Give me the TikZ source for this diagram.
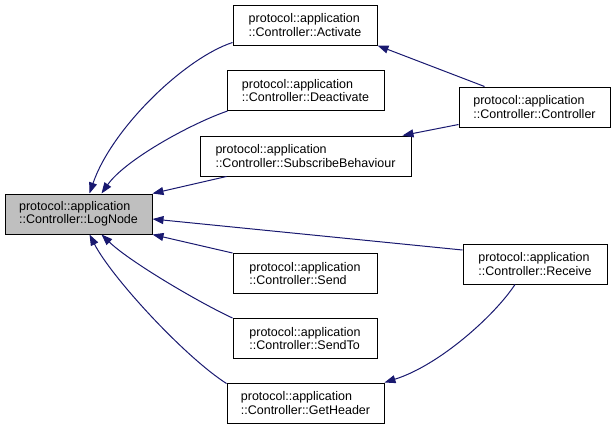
\documentclass[tikz,border=0pt]{standalone}
\usepackage{fontspec}
\setmainfont{Liberation Sans}
\usetikzlibrary{calc,arrows.meta}
\definecolor{edgeblue}{HTML}{191970}
\definecolor{boxgray}{HTML}{BFBFBF}
\begin{document}
\begin{tikzpicture}[x=1pt,y=-1pt,
  box/.style={draw=black, line width=1pt, rectangle, minimum height=40pt, inner sep=0pt, align=left, font=\fontsize{12.5}{13.5}\selectfont, fill=white},
  edge/.style={draw=edgeblue, line width=1pt, -{Triangle[length=11pt,width=8pt]}}]
\useasboundingbox (0,0) rectangle (616,429);
\node[box, fill=boxgray, minimum width=147pt] (log) at (78.5,214) {protocol::application\\::Controller::LogNode};
\node[box, minimum width=144pt] (act) at (305,25) {protocol::application\\::Controller::Activate};
\node[box, minimum width=157pt] (deact) at (305.5,90.5) {protocol::application\\::Controller::Deactivate};
\node[box, minimum width=211pt] (sub) at (305.5,156) {protocol::application\\::Controller::SubscribeBehaviour};
\node[box, minimum width=151pt] (ctrl) at (534.5,107) {protocol::application\\::Controller::Controller};
\node[box, minimum width=144pt] (recv) at (535,264) {protocol::application\\::Controller::Receive};
\node[box, minimum width=144pt] (send) at (305,273.5) {protocol::application\\::Controller::Send};
\node[box, minimum width=144pt] (sendto) at (305,338.5) {protocol::application\\::Controller::SendTo};
\node[box, minimum width=157pt] (gethdr) at (305.5,403) {protocol::application\\::Controller::GetHeader};

\draw[edge] ($(act.south west)+(0,-3)$) .. controls (185,58) and (112,128) .. ($(log.north west)+(85,0)$);
\draw[edge] ($(deact.south west)+(1,0)$) .. controls (190,124) and (125,160) .. ($(log.north west)+(97,0)$);
\draw[edge] ($(sub.south west)+(27,0)$) -- (log.north east);
\draw[edge] ($(recv.west)+(0,-14)$) -- ($(log.east)+(0,5)$);
\draw[edge] (send.north west) -- (log.south east);
\draw[edge] (sendto.north west) .. controls (200,303) and (130,262) .. ($(log.south west)+(97,0)$);
\draw[edge] ($(gethdr.north west)+(0,1)$) .. controls (185,357) and (112,278) .. ($(log.south west)+(85,0)$);
\draw[edge] ($(ctrl.north west)+(26,0)$) -- (act.south east);
\draw[edge] ($(ctrl.south west)+(0,-3)$) -- ($(sub.north east)+(-9,0)$);
\draw[edge] ($(recv.south)+(-20,0)$) .. controls (495,315) and (440,365) .. (gethdr.north east);
\end{tikzpicture}
\end{document}
